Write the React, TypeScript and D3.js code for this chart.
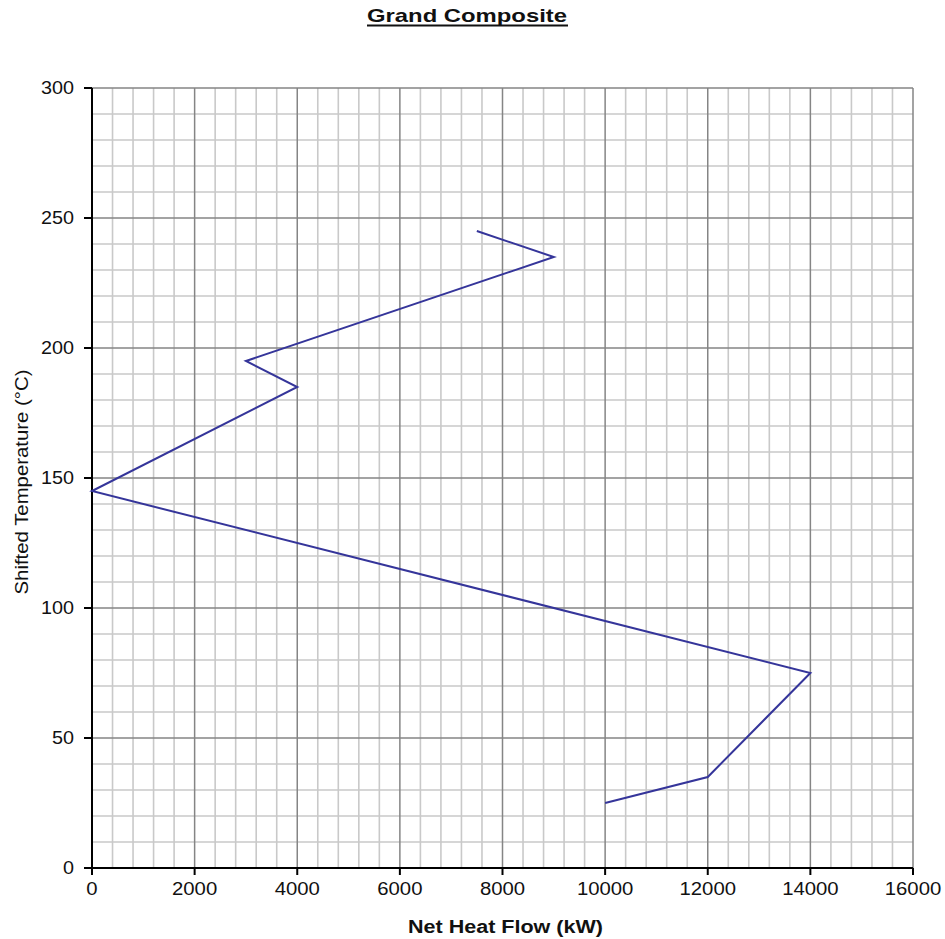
import React from "react";
import * as d3 from "d3";

const heatFlow = [7500, 9000, 3000, 4000, 0, 14000, 12000, 10000];
const shiftedTemp = [245, 235, 195, 185, 145, 75, 35, 25];
const xTicks = [0, 2000, 4000, 6000, 8000, 10000, 12000, 14000, 16000];
const yTicks = [0, 50, 100, 150, 200, 250, 300];
const title = "Grand Composite";
const xLabel = "Net Heat Flow (kW)";
const yLabel = "Shifted Temperature (°C)";

const W = 945;
const H = 939;
const FONT = "'Liberation Sans', Arial, sans-serif";

export default function App() {
  const x = d3.scaleLinear().domain([0, 16000]).range([92, 913]);
  const y = d3.scaleLinear().domain([0, 300]).range([868, 88]);
  const minorX = d3.range(0, 16001, 400).filter((v) => v % 2000 !== 0);
  const minorY = d3.range(0, 301, 10).filter((v) => v % 50 !== 0);
  const pts = heatFlow.map((v, i) => [v, shiftedTemp[i]] as [number, number]);
  const line = d3
    .line<[number, number]>()
    .x((d) => x(d[0]))
    .y((d) => y(d[1]));

  return (
    <svg
      width={W}
      height={H}
      style={{ position: "absolute", left: 0, top: 0, background: "#fff" }}
    >
      <rect x={0} y={0} width={W} height={H} fill="#fff" />
      {/* minor grid */}
      {minorX.map((v) => (
        <line key={"mx" + v} x1={x(v)} x2={x(v)} y1={y(300)} y2={y(0)} stroke="#c9c9c9" strokeWidth={1.6} />
      ))}
      {minorY.map((v) => (
        <line key={"my" + v} x1={x(0)} x2={x(16000)} y1={y(v)} y2={y(v)} stroke="#c9c9c9" strokeWidth={1.6} />
      ))}
      {/* major grid */}
      {xTicks.map((v) => (
        <line key={"Mx" + v} x1={x(v)} x2={x(v)} y1={y(300)} y2={y(0)} stroke="#858585" strokeWidth={1.5} />
      ))}
      {yTicks.map((v) => (
        <line key={"My" + v} x1={x(0)} x2={x(16000)} y1={y(v)} y2={y(v)} stroke="#858585" strokeWidth={1.5} />
      ))}
      {/* axes */}
      <line x1={x(0)} x2={x(0)} y1={y(300)} y2={y(0)} stroke="#000" strokeWidth={2} />
      <line x1={x(0)} x2={x(16000)} y1={y(0)} y2={y(0)} stroke="#000" strokeWidth={2} />
      {yTicks.map((v) => (
        <g key={"yt" + v}>
          <line x1={x(0) - 8} x2={x(0)} y1={y(v)} y2={y(v)} stroke="#000" strokeWidth={2} />
          <text
            x={74}
            y={y(v) + 6}
            textAnchor="end"
            fontFamily={FONT}
            fontSize={17.5}
            fill="#111"
            textLength={String(v).length * 11}
            lengthAdjust="spacingAndGlyphs"
          >
            {v}
          </text>
        </g>
      ))}
      {xTicks.map((v) => (
        <g key={"xt" + v}>
          <line x1={x(v)} x2={x(v)} y1={y(0)} y2={y(0) + 7} stroke="#000" strokeWidth={2} />
          <text
            x={x(v)}
            y={895}
            textAnchor="middle"
            fontFamily={FONT}
            fontSize={17.5}
            fill="#111"
            textLength={String(v).length * 11.3}
            lengthAdjust="spacingAndGlyphs"
          >
            {v}
          </text>
        </g>
      ))}
      {/* data line */}
      <path d={line(pts) || ""} fill="none" stroke="#35359a" strokeWidth={2} strokeLinejoin="miter" />
      {/* title */}
      <text
        x={467}
        y={22}
        textAnchor="middle"
        fontFamily={FONT}
        fontWeight="bold"
        fontSize={19}
        fill="#111"
        textLength={200}
        lengthAdjust="spacingAndGlyphs"
      >
        {title}
      </text>
      <line x1={367} x2={568} y1={25.5} y2={25.5} stroke="#111" strokeWidth={2} />
      {/* axis labels */}
      <text
        x={505.5}
        y={933}
        textAnchor="middle"
        fontFamily={FONT}
        fontWeight="bold"
        fontSize={18}
        fill="#111"
        textLength={195}
        lengthAdjust="spacingAndGlyphs"
      >
        {xLabel}
      </text>
      <text
        transform={`translate(28,482) rotate(-90)`}
        textAnchor="middle"
        fontFamily={FONT}
        fontSize={17.5}
        fill="#111"
        textLength={225}
        lengthAdjust="spacingAndGlyphs"
      >
        {yLabel}
      </text>
    </svg>
  );
}
